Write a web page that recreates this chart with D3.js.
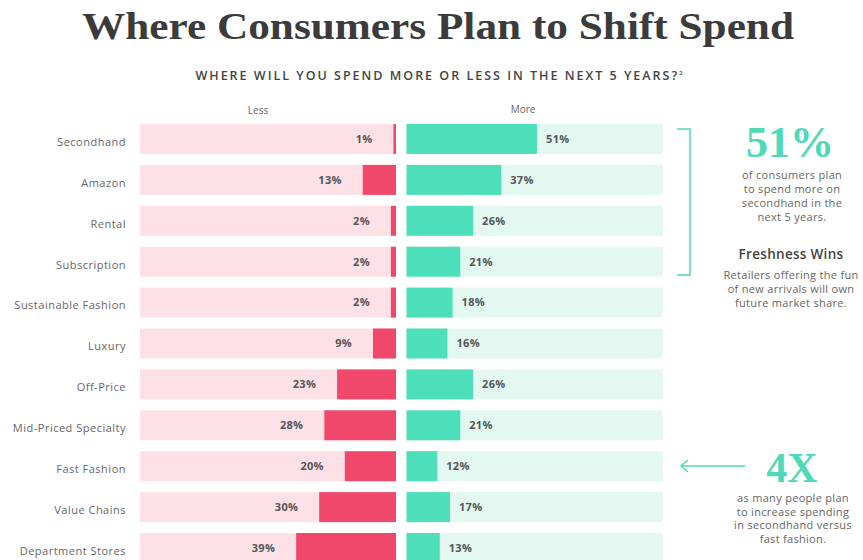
<!DOCTYPE html>
<html><head><meta charset="utf-8">
<script src="https://cdn.jsdelivr.net/npm/d3@7"></script>
<style>
html,body{margin:0;padding:0;background:#fff;}
svg{display:block;}
</style></head>
<body>
<script>
const categories = ["Secondhand","Amazon","Rental","Subscription","Sustainable Fashion","Luxury","Off-Price","Mid-Priced Specialty","Fast Fashion","Value Chains","Department Stores"];
const lessValues = [1,13,2,2,2,9,23,28,20,30,39];
const moreValues = [51,37,26,21,18,16,26,21,12,17,13];
const sideLabels = ["Less","More"];

const W = 863, H = 560;
const svg = d3.select("body").append("svg").attr("width", W).attr("height", H);

const sans = "'Open Sans', 'Noto Sans', sans-serif";
const serif = "'Liberation Serif','DejaVu Serif',serif";
const colors = {red:"#ef486a", pink:"#fde1e6", green:"#4ddfb9", mint:"#e2f8f1", teal:"#4fd9b6", text:"#555"};

// Title
svg.append("text").attr("x", 438).attr("y", 39).attr("text-anchor","middle")
  .attr("font-family",serif).attr("font-weight",900)
  .attr("font-size",37).attr("fill","#3b3b3b")
  .attr("textLength",712).attr("lengthAdjust","spacingAndGlyphs")
  .text("Where Consumers Plan to Shift Spend");

// Subtitle
const sub = svg.append("text").attr("x", 440).attr("y", 80).attr("text-anchor","middle")
  .attr("font-family",sans).attr("font-size",12.5).attr("font-weight",600).attr("fill","#444")
  .attr("letter-spacing",2);
sub.append("tspan").text("WHERE WILL YOU SPEND MORE OR LESS IN THE NEXT 5 YEARS?");
sub.append("tspan").attr("font-size",6).attr("dy",-5).text("2");

// Scales
const y = d3.scaleBand().domain(categories).range([124, 563]).paddingInner(0.267).paddingOuter(0);
const leftEnd = 396, rightStart = 406.5, panelW = 256;
const xLess = d3.scaleLinear().domain([0,100]).range([leftEnd, leftEnd - panelW]);
const xMore = d3.scaleLinear().domain([0,100]).range([rightStart, rightStart + panelW]);

// Side labels
svg.append("text").attr("x", 258).attr("y", 114).attr("text-anchor","middle")
  .attr("font-family",sans).attr("font-size",10).attr("fill","#666").text(sideLabels[0]);
svg.append("text").attr("x", 523).attr("y", 113).attr("text-anchor","middle")
  .attr("font-family",sans).attr("font-size",10).attr("fill","#666").text(sideLabels[1]);

const rows = categories.map((c,i)=>({cat:c, less:lessValues[i], more:moreValues[i]}));
const g = svg.append("g").selectAll("g").data(rows).join("g");

// backgrounds
g.append("rect").attr("x", xLess(100)).attr("y", d=>y(d.cat)).attr("width", xLess(0)-xLess(100))
  .attr("height", y.bandwidth()).attr("fill", colors.pink);
g.append("rect").attr("x", xMore(0)).attr("y", d=>y(d.cat)).attr("width", xMore(100)-xMore(0))
  .attr("height", y.bandwidth()).attr("fill", colors.mint);
// bars
g.append("rect").attr("x", d=>xLess(d.less)).attr("y", d=>y(d.cat)).attr("width", d=>xLess(0)-xLess(d.less))
  .attr("height", y.bandwidth()).attr("fill", colors.red);
g.append("rect").attr("x", xMore(0)).attr("y", d=>y(d.cat)).attr("width", d=>xMore(d.more)-xMore(0))
  .attr("height", y.bandwidth()).attr("fill", colors.green);
// value labels
g.append("text").attr("x", d=>xLess(d.less)-21).attr("y", d=>y(d.cat)+y.bandwidth()/2).attr("dy","0.35em")
  .attr("text-anchor","end").attr("font-family",sans).attr("font-weight",700).attr("font-size",11)
  .attr("letter-spacing",0.3).attr("fill",colors.text).text(d=>d.less+"%");
g.append("text").attr("x", d=>xMore(d.more)+9).attr("y", d=>y(d.cat)+y.bandwidth()/2).attr("dy","0.35em")
  .attr("text-anchor","start").attr("font-family",sans).attr("font-weight",700).attr("font-size",11)
  .attr("letter-spacing",0.3).attr("fill",colors.text).text(d=>d.more+"%");
// category labels
g.append("text").attr("x", 126).attr("y", d=>y(d.cat)+y.bandwidth()/2+3).attr("dy","0.35em")
  .attr("text-anchor","end").attr("font-family",sans).attr("font-size",11)
  .attr("letter-spacing",0.5).attr("fill","#666").text(d=>d.cat);

// Bracket
svg.append("path").attr("d","M677,129 H690 V275 H677").attr("fill","none")
  .attr("stroke",colors.teal).attr("stroke-width",1.5);

// 51% callout
svg.append("text").attr("x", 790).attr("y", 157).attr("text-anchor","middle")
  .attr("font-family",serif).attr("font-weight",900)
  .attr("font-size",44).attr("fill",colors.teal).text("51%");
const noteStyle = sel => sel.attr("text-anchor","middle").attr("font-family",sans).attr("font-size",11)
  .attr("letter-spacing",0.3).attr("fill","#666");
["of consumers plan","to spend more on","secondhand in the","next 5 years."].forEach((t,i)=>{
  svg.append("text").attr("x",792).attr("y",179+i*14).call(noteStyle).text(t);
});
svg.append("text").attr("x",791).attr("y",259).attr("text-anchor","middle").attr("font-family",sans)
  .attr("font-weight",600).attr("font-size",13.5).attr("letter-spacing",0.3).attr("fill","#444").text("Freshness Wins");
["Retailers offering the fun","of new arrivals will own","future market share."].forEach((t,i)=>{
  svg.append("text").attr("x",791).attr("y",279+i*14).call(noteStyle).text(t);
});

// Arrow + 4X
svg.append("path").attr("d","M745,466 H681").attr("stroke",colors.teal).attr("stroke-width",1.5).attr("fill","none");
svg.append("path").attr("d","M688,460 L681,466 L688,472").attr("stroke",colors.teal).attr("stroke-width",1.5).attr("fill","none");
svg.append("text").attr("x", 792).attr("y", 482).attr("text-anchor","middle")
  .attr("font-family",serif).attr("font-weight",900)
  .attr("font-size",42).attr("fill",colors.teal).text("4X");
["as many people plan","to increase spending","in secondhand versus","fast fashion."].forEach((t,i)=>{
  svg.append("text").attr("x",793).attr("y",502+i*13.5).call(noteStyle).text(t);
});
</script>
</body></html>
